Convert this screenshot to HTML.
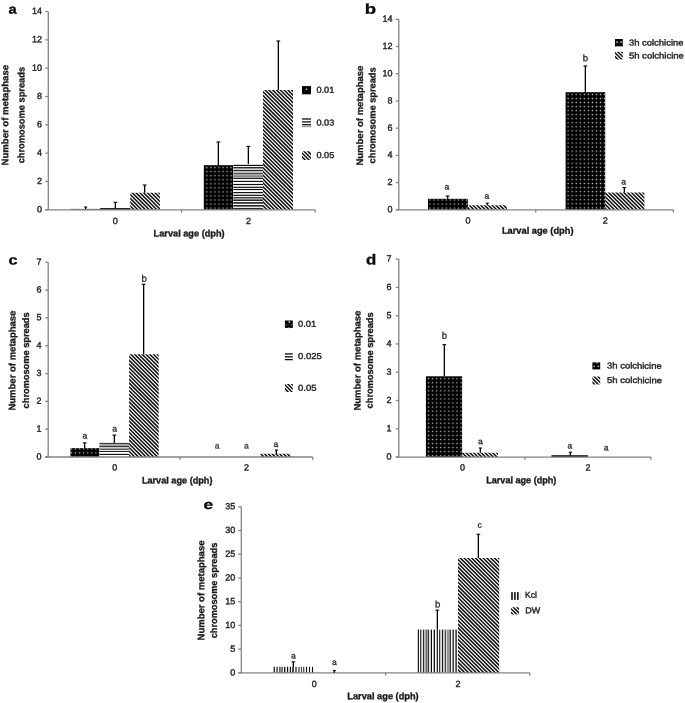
<!DOCTYPE html>
<html><head><meta charset="utf-8"><title>Figure</title>
<style>
html,body{margin:0;padding:0;background:#fff;}
svg{display:block;font-family:"Liberation Sans",sans-serif;will-change:transform;}
</style></head>
<body>
<svg width="685" height="703" viewBox="0 0 685 703">
<rect width="685" height="703" fill="#fff"/>
<text transform="translate(8.60,13.70) skewY(0.05) scale(1.1,1)" font-size="13.4" font-weight="bold" fill="#0a0a0a" stroke="#0a0a0a" stroke-width="0.3">a</text>
<rect x="70.4" y="208.90" width="29.7" height="0.9" fill="#444"/>
<rect x="100.1" y="208.00" width="30.2" height="1.8" fill="#222"/>
<clipPath id="c1"><rect x="130.30" y="192.70" width="29.60" height="17.10"/></clipPath>
<path clip-path="url(#c1)" d="M128.30 211.60L161.90 245.20M128.30 207.80L161.90 241.40M128.30 204.00L161.90 237.60M128.30 200.20L161.90 233.80M128.30 196.40L161.90 230.00M128.30 192.60L161.90 226.20M128.30 188.80L161.90 222.40M128.30 185.00L161.90 218.60M128.30 181.20L161.90 214.80M128.30 177.40L161.90 211.00M128.30 173.60L161.90 207.20M128.30 169.80L161.90 203.40M128.30 166.00L161.90 199.60M128.30 162.20L161.90 195.80M128.30 158.40L161.90 192.00" stroke="#0c0c0c" stroke-width="1.5" fill="none"/>
<pattern id="pc2" width="4.05" height="4.05" patternUnits="userSpaceOnUse" x="204.78" y="165.57"><rect width="4.05" height="4.05" fill="#000"/><rect x="1.38" y="1.38" width="1.3" height="1.3" fill="#c6c6c6"/></pattern>
<rect x="203.80" y="165.20" width="29.50" height="44.60" fill="url(#pc2)"/>
<rect x="233.30" y="164.85" width="29.70" height="44.95" fill="#fff"/>
<rect x="233.30" y="168.50" width="29.70" height="1.40" fill="#e2e2e2"/>
<rect x="233.30" y="171.20" width="29.70" height="1.80" fill="#c4c4c4"/>
<rect x="233.30" y="174.10" width="29.70" height="3.60" fill="#aaa"/>
<rect x="233.30" y="198.00" width="29.70" height="1.80" fill="#999"/>
<rect x="233.30" y="164.83" width="29.70" height="1.15" fill="#0a0a0a"/>
<rect x="233.30" y="166.95" width="29.70" height="1.50" fill="#2a2a2a"/>
<rect x="233.30" y="169.90" width="29.70" height="1.20" fill="#2a2a2a"/>
<rect x="233.30" y="173.10" width="29.70" height="1.00" fill="#3a3a3a"/>
<rect x="233.30" y="175.70" width="29.70" height="1.00" fill="#777"/>
<rect x="233.30" y="177.85" width="29.70" height="1.10" fill="#1a1a1a"/>
<rect x="233.30" y="180.83" width="29.70" height="1.15" fill="#0a0a0a"/>
<rect x="233.30" y="183.93" width="29.70" height="1.15" fill="#0a0a0a"/>
<rect x="233.30" y="186.73" width="29.70" height="1.15" fill="#0a0a0a"/>
<rect x="233.30" y="188.93" width="29.70" height="1.15" fill="#0a0a0a"/>
<rect x="233.30" y="192.03" width="29.70" height="1.15" fill="#0a0a0a"/>
<rect x="233.30" y="194.73" width="29.70" height="1.15" fill="#0a0a0a"/>
<rect x="233.30" y="196.95" width="29.70" height="1.10" fill="#444"/>
<rect x="233.30" y="199.73" width="29.70" height="1.15" fill="#0a0a0a"/>
<rect x="233.30" y="202.05" width="29.70" height="1.70" fill="#2a2a2a"/>
<rect x="233.30" y="204.95" width="29.70" height="1.70" fill="#2a2a2a"/>
<rect x="233.30" y="207.90" width="29.70" height="1.60" fill="#2a2a2a"/>
<clipPath id="c3"><rect x="263.00" y="90.00" width="30.00" height="119.80"/></clipPath>
<path clip-path="url(#c3)" d="M261.00 215.10L295.00 249.10M261.00 211.30L295.00 245.30M261.00 207.50L295.00 241.50M261.00 203.70L295.00 237.70M261.00 199.90L295.00 233.90M261.00 196.10L295.00 230.10M261.00 192.30L295.00 226.30M261.00 188.50L295.00 222.50M261.00 184.70L295.00 218.70M261.00 180.90L295.00 214.90M261.00 177.10L295.00 211.10M261.00 173.30L295.00 207.30M261.00 169.50L295.00 203.50M261.00 165.70L295.00 199.70M261.00 161.90L295.00 195.90M261.00 158.10L295.00 192.10M261.00 154.30L295.00 188.30M261.00 150.50L295.00 184.50M261.00 146.70L295.00 180.70M261.00 142.90L295.00 176.90M261.00 139.10L295.00 173.10M261.00 135.30L295.00 169.30M261.00 131.50L295.00 165.50M261.00 127.70L295.00 161.70M261.00 123.90L295.00 157.90M261.00 120.10L295.00 154.10M261.00 116.30L295.00 150.30M261.00 112.50L295.00 146.50M261.00 108.70L295.00 142.70M261.00 104.90L295.00 138.90M261.00 101.10L295.00 135.10M261.00 97.30L295.00 131.30M261.00 93.50L295.00 127.50M261.00 89.70L295.00 123.70M261.00 85.90L295.00 119.90M261.00 82.10L295.00 116.10M261.00 78.30L295.00 112.30M261.00 74.50L295.00 108.50M261.00 70.70L295.00 104.70M261.00 66.90L295.00 100.90M261.00 63.10L295.00 97.10M261.00 59.30L295.00 93.30M261.00 55.50L295.00 89.50" stroke="#0c0c0c" stroke-width="1.5" fill="none"/>
<path d="M48.30 11.55V209.80" stroke="#838383" stroke-width="1.3" fill="none"/>
<path d="M45.30 209.80H315.20" stroke="#838383" stroke-width="1.3" fill="none"/>
<path d="M45.30 209.80H48.30" stroke="#838383" stroke-width="1.3" fill="none"/>
<text transform="translate(42.10,212.30) skewY(0.05)" font-size="9.0" text-anchor="end" font-weight="normal" fill="#262626" stroke="#262626" stroke-width="0.4">0</text>
<path d="M45.30 181.48H48.30" stroke="#838383" stroke-width="1.3" fill="none"/>
<text transform="translate(42.10,183.98) skewY(0.05)" font-size="9.0" text-anchor="end" font-weight="normal" fill="#262626" stroke="#262626" stroke-width="0.4">2</text>
<path d="M45.30 153.16H48.30" stroke="#838383" stroke-width="1.3" fill="none"/>
<text transform="translate(42.10,155.66) skewY(0.05)" font-size="9.0" text-anchor="end" font-weight="normal" fill="#262626" stroke="#262626" stroke-width="0.4">4</text>
<path d="M45.30 124.84H48.30" stroke="#838383" stroke-width="1.3" fill="none"/>
<text transform="translate(42.10,127.34) skewY(0.05)" font-size="9.0" text-anchor="end" font-weight="normal" fill="#262626" stroke="#262626" stroke-width="0.4">6</text>
<path d="M45.30 96.51H48.30" stroke="#838383" stroke-width="1.3" fill="none"/>
<text transform="translate(42.10,99.01) skewY(0.05)" font-size="9.0" text-anchor="end" font-weight="normal" fill="#262626" stroke="#262626" stroke-width="0.4">8</text>
<path d="M45.30 68.19H48.30" stroke="#838383" stroke-width="1.3" fill="none"/>
<text transform="translate(42.10,70.69) skewY(0.05)" font-size="9.0" text-anchor="end" font-weight="normal" fill="#262626" stroke="#262626" stroke-width="0.4">10</text>
<path d="M45.30 39.87H48.30" stroke="#838383" stroke-width="1.3" fill="none"/>
<text transform="translate(42.10,42.37) skewY(0.05)" font-size="9.0" text-anchor="end" font-weight="normal" fill="#262626" stroke="#262626" stroke-width="0.4">12</text>
<path d="M45.30 11.55H48.30" stroke="#838383" stroke-width="1.3" fill="none"/>
<text transform="translate(42.10,14.05) skewY(0.05)" font-size="9.0" text-anchor="end" font-weight="normal" fill="#262626" stroke="#262626" stroke-width="0.4">14</text>
<path d="M181.50 209.80V212.60" stroke="#838383" stroke-width="1.3" fill="none"/>
<path d="M315.20 209.80V212.60" stroke="#838383" stroke-width="1.3" fill="none"/>
<text transform="translate(115.20,223.90) skewY(0.05)" font-size="9.0" text-anchor="middle" font-weight="normal" fill="#262626" stroke="#262626" stroke-width="0.4">0</text>
<text transform="translate(248.60,223.90) skewY(0.05)" font-size="9.0" text-anchor="middle" font-weight="normal" fill="#262626" stroke="#262626" stroke-width="0.4">2</text>
<rect x="85.00" y="207.00" width="1.3" height="2.00" fill="#000"/>
<rect x="84.15" y="206.45" width="3.00" height="1.1" fill="#000"/>
<rect x="114.70" y="202.30" width="1.3" height="5.80" fill="#000"/>
<rect x="113.50" y="201.75" width="3.70" height="1.1" fill="#000"/>
<rect x="144.00" y="185.00" width="1.3" height="7.70" fill="#000"/>
<rect x="142.80" y="184.45" width="3.70" height="1.1" fill="#000"/>
<rect x="217.70" y="142.00" width="1.3" height="23.20" fill="#000"/>
<rect x="216.50" y="141.45" width="3.70" height="1.1" fill="#000"/>
<rect x="247.70" y="146.40" width="1.3" height="17.70" fill="#000"/>
<rect x="246.50" y="145.85" width="3.70" height="1.1" fill="#000"/>
<rect x="277.70" y="41.00" width="1.3" height="49.00" fill="#000"/>
<rect x="276.50" y="40.45" width="3.70" height="1.1" fill="#000"/>
<text transform="translate(8.30,115.20) rotate(-90) skewY(0.05)" font-size="9.4" text-anchor="middle" font-weight="bold" fill="#1a1a1a" stroke="#1a1a1a" stroke-width="0.3" textLength="100.6" lengthAdjust="spacingAndGlyphs">Number of metaphase</text>
<text transform="translate(24.40,115.15) rotate(-90) skewY(0.05)" font-size="9.4" text-anchor="middle" font-weight="bold" fill="#1a1a1a" stroke="#1a1a1a" stroke-width="0.3" textLength="96.4" lengthAdjust="spacingAndGlyphs">chromosome spreads</text>
<text transform="translate(153.60,236.50) skewY(0.05)" font-size="9.5" text-anchor="start" font-weight="bold" fill="#1a1a1a" stroke="#1a1a1a" stroke-width="0.35" textLength="71" lengthAdjust="spacingAndGlyphs">Larval age (dph)</text>
<rect x="302.00" y="86.10" width="9.00" height="8.20" fill="#000"/>
<rect x="305.80" y="88.60" width="1.40" height="1.40" fill="#ddd"/>
<rect x="302.00" y="118.35" width="9.00" height="1.3" fill="#111"/>
<rect x="302.00" y="121.25" width="9.00" height="1.3" fill="#111"/>
<rect x="302.00" y="124.05" width="9.00" height="1.3" fill="#111"/>
<rect x="302.00" y="126.00" width="9.00" height="1.2" fill="#999"/>
<clipPath id="c4"><rect x="302.00" y="151.20" width="9.00" height="8.80"/></clipPath>
<path clip-path="url(#c4)" d="M300.00 162.40L313.00 175.40M300.00 158.60L313.00 171.60M300.00 154.80L313.00 167.80M300.00 151.00L313.00 164.00M300.00 147.20L313.00 160.20M300.00 143.40L313.00 156.40M300.00 139.60L313.00 152.60" stroke="#0c0c0c" stroke-width="1.5" fill="none"/>
<text transform="translate(316.50,92.75) skewY(0.05)" font-size="8.6" text-anchor="start" font-weight="normal" fill="#262626" stroke="#262626" stroke-width="0.4" textLength="17.8" lengthAdjust="spacingAndGlyphs">0.01</text>
<text transform="translate(316.50,125.40) skewY(0.05)" font-size="8.6" text-anchor="start" font-weight="normal" fill="#262626" stroke="#262626" stroke-width="0.4" textLength="17.8" lengthAdjust="spacingAndGlyphs">0.03</text>
<text transform="translate(316.50,158.05) skewY(0.05)" font-size="8.6" text-anchor="start" font-weight="normal" fill="#262626" stroke="#262626" stroke-width="0.4" textLength="17.8" lengthAdjust="spacingAndGlyphs">0.05</text>
<text transform="translate(364.85,13.75) skewY(0.05) scale(1.3,1)" font-size="14.25" font-weight="bold" fill="#0a0a0a" stroke="#0a0a0a" stroke-width="0.3">b</text>
<pattern id="pc5" width="4.05" height="4.05" patternUnits="userSpaceOnUse" x="427.98" y="197.97"><rect width="4.05" height="4.05" fill="#000"/><rect x="1.38" y="1.38" width="1.3" height="1.3" fill="#c6c6c6"/></pattern>
<rect x="428.00" y="198.80" width="39.80" height="11.00" fill="url(#pc5)"/>
<clipPath id="c6"><rect x="467.80" y="205.20" width="39.10" height="4.60"/></clipPath>
<path clip-path="url(#c6)" d="M465.80 213.10L508.90 256.20M465.80 209.30L508.90 252.40M465.80 205.50L508.90 248.60M465.80 201.70L508.90 244.80M465.80 197.90L508.90 241.00M465.80 194.10L508.90 237.20M465.80 190.30L508.90 233.40M465.80 186.50L508.90 229.60M465.80 182.70L508.90 225.80M465.80 178.90L508.90 222.00M465.80 175.10L508.90 218.20M465.80 171.30L508.90 214.40M465.80 167.50L508.90 210.60M465.80 163.70L508.90 206.80" stroke="#0c0c0c" stroke-width="1.5" fill="none"/>
<pattern id="pc7" width="4.05" height="4.05" patternUnits="userSpaceOnUse" x="566.08" y="92.38"><rect width="4.05" height="4.05" fill="#000"/><rect x="1.38" y="1.38" width="1.3" height="1.3" fill="#c6c6c6"/></pattern>
<rect x="565.60" y="92.20" width="39.60" height="117.60" fill="url(#pc7)"/>
<clipPath id="c8"><rect x="605.20" y="192.60" width="39.20" height="17.20"/></clipPath>
<path clip-path="url(#c8)" d="M603.20 213.70L646.40 256.90M603.20 209.90L646.40 253.10M603.20 206.10L646.40 249.30M603.20 202.30L646.40 245.50M603.20 198.50L646.40 241.70M603.20 194.70L646.40 237.90M603.20 190.90L646.40 234.10M603.20 187.10L646.40 230.30M603.20 183.30L646.40 226.50M603.20 179.50L646.40 222.70M603.20 175.70L646.40 218.90M603.20 171.90L646.40 215.10M603.20 168.10L646.40 211.30M603.20 164.30L646.40 207.50M603.20 160.50L646.40 203.70M603.20 156.70L646.40 199.90M603.20 152.90L646.40 196.10M603.20 149.10L646.40 192.30" stroke="#0c0c0c" stroke-width="1.5" fill="none"/>
<path d="M398.80 19.30V209.80" stroke="#838383" stroke-width="1.3" fill="none"/>
<path d="M395.80 209.80H673.30" stroke="#838383" stroke-width="1.3" fill="none"/>
<path d="M395.80 209.80H398.80" stroke="#838383" stroke-width="1.3" fill="none"/>
<text transform="translate(392.50,212.30) skewY(0.05)" font-size="9.0" text-anchor="end" font-weight="normal" fill="#262626" stroke="#262626" stroke-width="0.4">0</text>
<path d="M395.80 182.59H398.80" stroke="#838383" stroke-width="1.3" fill="none"/>
<text transform="translate(392.50,185.09) skewY(0.05)" font-size="9.0" text-anchor="end" font-weight="normal" fill="#262626" stroke="#262626" stroke-width="0.4">2</text>
<path d="M395.80 155.37H398.80" stroke="#838383" stroke-width="1.3" fill="none"/>
<text transform="translate(392.50,157.87) skewY(0.05)" font-size="9.0" text-anchor="end" font-weight="normal" fill="#262626" stroke="#262626" stroke-width="0.4">4</text>
<path d="M395.80 128.16H398.80" stroke="#838383" stroke-width="1.3" fill="none"/>
<text transform="translate(392.50,130.66) skewY(0.05)" font-size="9.0" text-anchor="end" font-weight="normal" fill="#262626" stroke="#262626" stroke-width="0.4">6</text>
<path d="M395.80 100.94H398.80" stroke="#838383" stroke-width="1.3" fill="none"/>
<text transform="translate(392.50,103.44) skewY(0.05)" font-size="9.0" text-anchor="end" font-weight="normal" fill="#262626" stroke="#262626" stroke-width="0.4">8</text>
<path d="M395.80 73.73H398.80" stroke="#838383" stroke-width="1.3" fill="none"/>
<text transform="translate(392.50,76.23) skewY(0.05)" font-size="9.0" text-anchor="end" font-weight="normal" fill="#262626" stroke="#262626" stroke-width="0.4">10</text>
<path d="M395.80 46.51H398.80" stroke="#838383" stroke-width="1.3" fill="none"/>
<text transform="translate(392.50,49.01) skewY(0.05)" font-size="9.0" text-anchor="end" font-weight="normal" fill="#262626" stroke="#262626" stroke-width="0.4">12</text>
<path d="M395.80 19.30H398.80" stroke="#838383" stroke-width="1.3" fill="none"/>
<text transform="translate(392.50,21.80) skewY(0.05)" font-size="9.0" text-anchor="end" font-weight="normal" fill="#262626" stroke="#262626" stroke-width="0.4">14</text>
<path d="M535.70 209.80V212.60" stroke="#838383" stroke-width="1.3" fill="none"/>
<path d="M673.30 209.80V212.60" stroke="#838383" stroke-width="1.3" fill="none"/>
<text transform="translate(467.90,223.60) skewY(0.05)" font-size="9.0" text-anchor="middle" font-weight="normal" fill="#262626" stroke="#262626" stroke-width="0.4">0</text>
<text transform="translate(605.20,223.60) skewY(0.05)" font-size="9.0" text-anchor="middle" font-weight="normal" fill="#262626" stroke="#262626" stroke-width="0.4">2</text>
<rect x="447.00" y="196.00" width="1.3" height="2.80" fill="#000"/>
<rect x="445.80" y="195.45" width="3.70" height="1.1" fill="#000"/>
<rect x="486.70" y="203.20" width="1.3" height="2.00" fill="#000"/>
<rect x="485.85" y="202.65" width="3.00" height="1.1" fill="#000"/>
<rect x="584.70" y="66.00" width="1.3" height="26.20" fill="#000"/>
<rect x="583.50" y="65.45" width="3.70" height="1.1" fill="#000"/>
<rect x="623.70" y="187.60" width="1.3" height="5.00" fill="#000"/>
<rect x="622.50" y="187.05" width="3.70" height="1.1" fill="#000"/>
<text transform="translate(446.80,189.60) skewY(0.05)" font-size="8.6" text-anchor="middle" font-weight="normal" fill="#222" stroke="#222" stroke-width="0.25">a</text>
<text transform="translate(487.00,198.70) skewY(0.05)" font-size="8.6" text-anchor="middle" font-weight="normal" fill="#222" stroke="#222" stroke-width="0.25">a</text>
<text transform="translate(585.40,61.20) skewY(0.05)" font-size="9.6" text-anchor="middle" font-weight="normal" fill="#222" stroke="#222" stroke-width="0.25">b</text>
<text transform="translate(623.70,184.40) skewY(0.05)" font-size="8.6" text-anchor="middle" font-weight="normal" fill="#222" stroke="#222" stroke-width="0.25">a</text>
<text transform="translate(363.00,115.60) rotate(-90) skewY(0.05)" font-size="9.4" text-anchor="middle" font-weight="bold" fill="#1a1a1a" stroke="#1a1a1a" stroke-width="0.3" textLength="100.0" lengthAdjust="spacingAndGlyphs">Number of metaphase</text>
<text transform="translate(375.40,115.40) rotate(-90) skewY(0.05)" font-size="9.4" text-anchor="middle" font-weight="bold" fill="#1a1a1a" stroke="#1a1a1a" stroke-width="0.3" textLength="96.0" lengthAdjust="spacingAndGlyphs">chromosome spreads</text>
<text transform="translate(501.90,233.80) skewY(0.05)" font-size="9.5" text-anchor="start" font-weight="bold" fill="#1a1a1a" stroke="#1a1a1a" stroke-width="0.35" textLength="71.6" lengthAdjust="spacingAndGlyphs">Larval age (dph)</text>
<rect x="615.00" y="39.00" width="7.80" height="7.60" fill="#000"/>
<rect x="616.15" y="41.25" width="1.70" height="1.70" fill="#aaa"/>
<rect x="620.25" y="41.25" width="1.70" height="1.70" fill="#aaa"/>
<rect x="615.00" y="46.50" width="0.10" height="0.10" fill="#000"/>
<rect x="616.50" y="46.00" width="1.00" height="1.00" fill="#fff"/>
<rect x="620.60" y="46.00" width="1.00" height="1.00" fill="#fff"/>
<rect x="618.50" y="46.20" width="1.00" height="1.00" fill="#fff"/>
<clipPath id="c9"><rect x="615.00" y="51.80" width="7.80" height="7.60"/></clipPath>
<path clip-path="url(#c9)" d="M613.00 62.20L624.80 74.00M613.00 58.40L624.80 70.20M613.00 54.60L624.80 66.40M613.00 50.80L624.80 62.60M613.00 47.00L624.80 58.80M613.00 43.20L624.80 55.00M613.00 39.40L624.80 51.20" stroke="#0c0c0c" stroke-width="1.5" fill="none"/>
<text transform="translate(628.90,45.40) skewY(0.05)" font-size="8.6" text-anchor="start" font-weight="normal" fill="#262626" stroke="#262626" stroke-width="0.4" textLength="54.6" lengthAdjust="spacingAndGlyphs">3h colchicine</text>
<text transform="translate(628.90,58.40) skewY(0.05)" font-size="8.6" text-anchor="start" font-weight="normal" fill="#262626" stroke="#262626" stroke-width="0.4" textLength="55.0" lengthAdjust="spacingAndGlyphs">5h colchicine</text>
<text transform="translate(8.40,264.50) skewY(0.05) scale(1.22,1)" font-size="13.4" font-weight="bold" fill="#0a0a0a" stroke="#0a0a0a" stroke-width="0.3">c</text>
<pattern id="pc10" width="4.05" height="4.05" patternUnits="userSpaceOnUse" x="69.47" y="446.78"><rect width="4.05" height="4.05" fill="#000"/><rect x="1.38" y="1.38" width="1.3" height="1.3" fill="#c6c6c6"/></pattern>
<rect x="70.50" y="448.10" width="28.90" height="8.90" fill="url(#pc10)"/>
<rect x="99.40" y="442.90" width="29.70" height="14.10" fill="#fff"/>
<rect x="99.40" y="443.90" width="29.70" height="2.00" fill="#aaa"/>
<rect x="99.40" y="447.00" width="29.70" height="1.50" fill="#ccc"/>
<rect x="99.40" y="442.90" width="29.70" height="1.00" fill="#2a2a2a"/>
<rect x="99.40" y="445.90" width="29.70" height="1.00" fill="#222"/>
<rect x="99.40" y="448.60" width="29.70" height="1.20" fill="#3a3a3a"/>
<rect x="99.40" y="450.90" width="29.70" height="1.00" fill="#0a0a0a"/>
<rect x="99.40" y="453.85" width="29.70" height="1.10" fill="#0a0a0a"/>
<clipPath id="c11"><rect x="129.10" y="354.30" width="29.60" height="102.70"/></clipPath>
<path clip-path="url(#c11)" d="M127.10 460.80L160.70 494.40M127.10 457.00L160.70 490.60M127.10 453.20L160.70 486.80M127.10 449.40L160.70 483.00M127.10 445.60L160.70 479.20M127.10 441.80L160.70 475.40M127.10 438.00L160.70 471.60M127.10 434.20L160.70 467.80M127.10 430.40L160.70 464.00M127.10 426.60L160.70 460.20M127.10 422.80L160.70 456.40M127.10 419.00L160.70 452.60M127.10 415.20L160.70 448.80M127.10 411.40L160.70 445.00M127.10 407.60L160.70 441.20M127.10 403.80L160.70 437.40M127.10 400.00L160.70 433.60M127.10 396.20L160.70 429.80M127.10 392.40L160.70 426.00M127.10 388.60L160.70 422.20M127.10 384.80L160.70 418.40M127.10 381.00L160.70 414.60M127.10 377.20L160.70 410.80M127.10 373.40L160.70 407.00M127.10 369.60L160.70 403.20M127.10 365.80L160.70 399.40M127.10 362.00L160.70 395.60M127.10 358.20L160.70 391.80M127.10 354.40L160.70 388.00M127.10 350.60L160.70 384.20M127.10 346.80L160.70 380.40M127.10 343.00L160.70 376.60M127.10 339.20L160.70 372.80M127.10 335.40L160.70 369.00M127.10 331.60L160.70 365.20M127.10 327.80L160.70 361.40M127.10 324.00L160.70 357.60M127.10 320.20L160.70 353.80" stroke="#0c0c0c" stroke-width="1.5" fill="none"/>
<clipPath id="c12"><rect x="260.40" y="453.70" width="30.20" height="3.30"/></clipPath>
<path clip-path="url(#c12)" d="M258.40 459.10L292.60 493.30M258.40 455.30L292.60 489.50M258.40 451.50L292.60 485.70M258.40 447.70L292.60 481.90M258.40 443.90L292.60 478.10M258.40 440.10L292.60 474.30M258.40 436.30L292.60 470.50M258.40 432.50L292.60 466.70M258.40 428.70L292.60 462.90M258.40 424.90L292.60 459.10M258.40 421.10L292.60 455.30" stroke="#0c0c0c" stroke-width="1.5" fill="none"/>
<path d="M48.20 262.20V457.00" stroke="#838383" stroke-width="1.3" fill="none"/>
<path d="M45.20 457.00H312.70" stroke="#838383" stroke-width="1.3" fill="none"/>
<path d="M45.20 457.00H48.20" stroke="#838383" stroke-width="1.3" fill="none"/>
<text transform="translate(41.60,459.50) skewY(0.05)" font-size="9.0" text-anchor="end" font-weight="normal" fill="#262626" stroke="#262626" stroke-width="0.4">0</text>
<path d="M45.20 429.17H48.20" stroke="#838383" stroke-width="1.3" fill="none"/>
<text transform="translate(41.60,431.67) skewY(0.05)" font-size="9.0" text-anchor="end" font-weight="normal" fill="#262626" stroke="#262626" stroke-width="0.4">1</text>
<path d="M45.20 401.34H48.20" stroke="#838383" stroke-width="1.3" fill="none"/>
<text transform="translate(41.60,403.84) skewY(0.05)" font-size="9.0" text-anchor="end" font-weight="normal" fill="#262626" stroke="#262626" stroke-width="0.4">2</text>
<path d="M45.20 373.51H48.20" stroke="#838383" stroke-width="1.3" fill="none"/>
<text transform="translate(41.60,376.01) skewY(0.05)" font-size="9.0" text-anchor="end" font-weight="normal" fill="#262626" stroke="#262626" stroke-width="0.4">3</text>
<path d="M45.20 345.69H48.20" stroke="#838383" stroke-width="1.3" fill="none"/>
<text transform="translate(41.60,348.19) skewY(0.05)" font-size="9.0" text-anchor="end" font-weight="normal" fill="#262626" stroke="#262626" stroke-width="0.4">4</text>
<path d="M45.20 317.86H48.20" stroke="#838383" stroke-width="1.3" fill="none"/>
<text transform="translate(41.60,320.36) skewY(0.05)" font-size="9.0" text-anchor="end" font-weight="normal" fill="#262626" stroke="#262626" stroke-width="0.4">5</text>
<path d="M45.20 290.03H48.20" stroke="#838383" stroke-width="1.3" fill="none"/>
<text transform="translate(41.60,292.53) skewY(0.05)" font-size="9.0" text-anchor="end" font-weight="normal" fill="#262626" stroke="#262626" stroke-width="0.4">6</text>
<path d="M45.20 262.20H48.20" stroke="#838383" stroke-width="1.3" fill="none"/>
<text transform="translate(41.60,264.70) skewY(0.05)" font-size="9.0" text-anchor="end" font-weight="normal" fill="#262626" stroke="#262626" stroke-width="0.4">7</text>
<path d="M180.10 457.00V459.80" stroke="#838383" stroke-width="1.3" fill="none"/>
<path d="M312.70 457.00V459.80" stroke="#838383" stroke-width="1.3" fill="none"/>
<text transform="translate(114.80,470.40) skewY(0.05)" font-size="9.0" text-anchor="middle" font-weight="normal" fill="#262626" stroke="#262626" stroke-width="0.4">0</text>
<text transform="translate(246.50,470.40) skewY(0.05)" font-size="9.0" text-anchor="middle" font-weight="normal" fill="#262626" stroke="#262626" stroke-width="0.4">2</text>
<rect x="84.00" y="442.90" width="1.3" height="5.50" fill="#000"/>
<rect x="82.80" y="442.35" width="3.70" height="1.1" fill="#000"/>
<rect x="113.70" y="435.10" width="1.3" height="7.80" fill="#000"/>
<rect x="112.50" y="434.55" width="3.70" height="1.1" fill="#000"/>
<rect x="143.00" y="284.30" width="1.3" height="70.00" fill="#000"/>
<rect x="141.80" y="283.75" width="3.70" height="1.1" fill="#000"/>
<rect x="275.70" y="450.00" width="1.3" height="4.20" fill="#000"/>
<rect x="274.85" y="449.45" width="3.00" height="1.1" fill="#000"/>
<text transform="translate(84.90,438.60) skewY(0.05)" font-size="8.6" text-anchor="middle" font-weight="normal" fill="#222" stroke="#222" stroke-width="0.25">a</text>
<text transform="translate(114.60,431.40) skewY(0.05)" font-size="8.6" text-anchor="middle" font-weight="normal" fill="#222" stroke="#222" stroke-width="0.25">a</text>
<text transform="translate(144.10,281.70) skewY(0.05)" font-size="9.6" text-anchor="middle" font-weight="normal" fill="#222" stroke="#222" stroke-width="0.25">b</text>
<text transform="translate(217.20,448.40) skewY(0.05)" font-size="8.6" text-anchor="middle" font-weight="normal" fill="#484848" stroke="#484848" stroke-width="0.3">a</text>
<text transform="translate(246.40,448.40) skewY(0.05)" font-size="8.6" text-anchor="middle" font-weight="normal" fill="#484848" stroke="#484848" stroke-width="0.3">a</text>
<text transform="translate(276.00,447.00) skewY(0.05)" font-size="8.6" text-anchor="middle" font-weight="normal" fill="#333" stroke="#333" stroke-width="0.3">a</text>
<text transform="translate(15.40,360.60) rotate(-90) skewY(0.05)" font-size="9.4" text-anchor="middle" font-weight="bold" fill="#1a1a1a" stroke="#1a1a1a" stroke-width="0.3" textLength="100.0" lengthAdjust="spacingAndGlyphs">Number of metaphase</text>
<text transform="translate(29.00,360.40) rotate(-90) skewY(0.05)" font-size="9.4" text-anchor="middle" font-weight="bold" fill="#1a1a1a" stroke="#1a1a1a" stroke-width="0.3" textLength="96.0" lengthAdjust="spacingAndGlyphs">chromosome spreads</text>
<text transform="translate(141.90,483.40) skewY(0.05)" font-size="9.5" text-anchor="start" font-weight="bold" fill="#1a1a1a" stroke="#1a1a1a" stroke-width="0.35" textLength="70.6" lengthAdjust="spacingAndGlyphs">Larval age (dph)</text>
<rect x="284.90" y="320.50" width="7.90" height="7.40" fill="#000"/>
<rect x="288.50" y="321.30" width="1.40" height="1.40" fill="#eee"/>
<rect x="284.90" y="320.50" width="0.05" height="0.05" fill="#000"/>
<rect x="285.80" y="324.20" width="1.20" height="1.20" fill="#777"/>
<rect x="290.60" y="324.20" width="1.20" height="1.20" fill="#777"/>
<rect x="288.20" y="327.00" width="1.20" height="1.20" fill="#777"/>
<rect x="284.90" y="353.25" width="7.90" height="1.3" fill="#111"/>
<rect x="284.90" y="356.15" width="7.90" height="1.3" fill="#111"/>
<rect x="284.90" y="358.95" width="7.90" height="1.3" fill="#111"/>
<clipPath id="c13"><rect x="284.90" y="384.00" width="7.90" height="8.10"/></clipPath>
<path clip-path="url(#c13)" d="M282.90 394.30L294.80 406.20M282.90 390.50L294.80 402.40M282.90 386.70L294.80 398.60M282.90 382.90L294.80 394.80M282.90 379.10L294.80 391.00M282.90 375.30L294.80 387.20M282.90 371.50L294.80 383.40" stroke="#0c0c0c" stroke-width="1.5" fill="none"/>
<text transform="translate(298.00,326.85) skewY(0.05)" font-size="8.6" text-anchor="start" font-weight="normal" fill="#262626" stroke="#262626" stroke-width="0.4" textLength="18.2" lengthAdjust="spacingAndGlyphs">0.01</text>
<text transform="translate(298.00,359.10) skewY(0.05)" font-size="8.6" text-anchor="start" font-weight="normal" fill="#262626" stroke="#262626" stroke-width="0.4" textLength="23.8" lengthAdjust="spacingAndGlyphs">0.025</text>
<text transform="translate(298.00,390.65) skewY(0.05)" font-size="8.6" text-anchor="start" font-weight="normal" fill="#262626" stroke="#262626" stroke-width="0.4" textLength="18.5" lengthAdjust="spacingAndGlyphs">0.05</text>
<text transform="translate(365.98,264.45) skewY(0.05) scale(1.16,1)" font-size="14.5" font-weight="bold" fill="#0a0a0a" stroke="#0a0a0a" stroke-width="0.3">d</text>
<pattern id="pc14" width="4.05" height="4.05" patternUnits="userSpaceOnUse" x="426.58" y="376.68"><rect width="4.05" height="4.05" fill="#000"/><rect x="1.38" y="1.38" width="1.3" height="1.3" fill="#c6c6c6"/></pattern>
<rect x="425.90" y="376.30" width="36.20" height="80.75" fill="url(#pc14)"/>
<clipPath id="c15"><rect x="462.10" y="452.70" width="35.90" height="4.35"/></clipPath>
<path clip-path="url(#c15)" d="M460.10 462.00L500.00 501.90M460.10 458.20L500.00 498.10M460.10 454.40L500.00 494.30M460.10 450.60L500.00 490.50M460.10 446.80L500.00 486.70M460.10 443.00L500.00 482.90M460.10 439.20L500.00 479.10M460.10 435.40L500.00 475.30M460.10 431.60L500.00 471.50M460.10 427.80L500.00 467.70M460.10 424.00L500.00 463.90M460.10 420.20L500.00 460.10M460.10 416.40L500.00 456.30M460.10 412.60L500.00 452.50" stroke="#0c0c0c" stroke-width="1.5" fill="none"/>
<rect x="551.4" y="455.2" width="36.5" height="1.7" fill="#111"/>
<path d="M398.80 259.10V457.05" stroke="#838383" stroke-width="1.3" fill="none"/>
<path d="M395.80 457.05H650.90" stroke="#838383" stroke-width="1.3" fill="none"/>
<path d="M395.80 457.05H398.80" stroke="#838383" stroke-width="1.3" fill="none"/>
<text transform="translate(391.50,459.55) skewY(0.05)" font-size="9.0" text-anchor="end" font-weight="normal" fill="#262626" stroke="#262626" stroke-width="0.4">0</text>
<path d="M395.80 428.77H398.80" stroke="#838383" stroke-width="1.3" fill="none"/>
<text transform="translate(391.50,431.27) skewY(0.05)" font-size="9.0" text-anchor="end" font-weight="normal" fill="#262626" stroke="#262626" stroke-width="0.4">1</text>
<path d="M395.80 400.49H398.80" stroke="#838383" stroke-width="1.3" fill="none"/>
<text transform="translate(391.50,402.99) skewY(0.05)" font-size="9.0" text-anchor="end" font-weight="normal" fill="#262626" stroke="#262626" stroke-width="0.4">2</text>
<path d="M395.80 372.21H398.80" stroke="#838383" stroke-width="1.3" fill="none"/>
<text transform="translate(391.50,374.71) skewY(0.05)" font-size="9.0" text-anchor="end" font-weight="normal" fill="#262626" stroke="#262626" stroke-width="0.4">3</text>
<path d="M395.80 343.94H398.80" stroke="#838383" stroke-width="1.3" fill="none"/>
<text transform="translate(391.50,346.44) skewY(0.05)" font-size="9.0" text-anchor="end" font-weight="normal" fill="#262626" stroke="#262626" stroke-width="0.4">4</text>
<path d="M395.80 315.66H398.80" stroke="#838383" stroke-width="1.3" fill="none"/>
<text transform="translate(391.50,318.16) skewY(0.05)" font-size="9.0" text-anchor="end" font-weight="normal" fill="#262626" stroke="#262626" stroke-width="0.4">5</text>
<path d="M395.80 287.38H398.80" stroke="#838383" stroke-width="1.3" fill="none"/>
<text transform="translate(391.50,289.88) skewY(0.05)" font-size="9.0" text-anchor="end" font-weight="normal" fill="#262626" stroke="#262626" stroke-width="0.4">6</text>
<path d="M395.80 259.10H398.80" stroke="#838383" stroke-width="1.3" fill="none"/>
<text transform="translate(391.50,261.60) skewY(0.05)" font-size="9.0" text-anchor="end" font-weight="normal" fill="#262626" stroke="#262626" stroke-width="0.4">7</text>
<path d="M525.00 457.05V459.85" stroke="#838383" stroke-width="1.3" fill="none"/>
<path d="M650.90 457.05V459.85" stroke="#838383" stroke-width="1.3" fill="none"/>
<text transform="translate(462.60,470.40) skewY(0.05)" font-size="9.0" text-anchor="middle" font-weight="normal" fill="#262626" stroke="#262626" stroke-width="0.4">0</text>
<text transform="translate(587.90,470.40) skewY(0.05)" font-size="9.0" text-anchor="middle" font-weight="normal" fill="#262626" stroke="#262626" stroke-width="0.4">2</text>
<rect x="443.70" y="344.70" width="1.3" height="31.60" fill="#000"/>
<rect x="442.50" y="344.15" width="3.70" height="1.1" fill="#000"/>
<rect x="479.70" y="448.00" width="1.3" height="4.70" fill="#000"/>
<rect x="478.85" y="447.45" width="3.00" height="1.1" fill="#000"/>
<rect x="569.70" y="452.20" width="1.3" height="3.10" fill="#000"/>
<rect x="568.85" y="451.65" width="3.00" height="1.1" fill="#000"/>
<text transform="translate(444.30,338.80) skewY(0.05)" font-size="9.6" text-anchor="middle" font-weight="normal" fill="#222" stroke="#222" stroke-width="0.25">b</text>
<text transform="translate(480.40,444.20) skewY(0.05)" font-size="8.6" text-anchor="middle" font-weight="normal" fill="#222" stroke="#222" stroke-width="0.25">a</text>
<text transform="translate(570.00,448.40) skewY(0.05)" font-size="8.6" text-anchor="middle" font-weight="normal" fill="#333" stroke="#333" stroke-width="0.3">a</text>
<text transform="translate(606.20,450.40) skewY(0.05)" font-size="8.6" text-anchor="middle" font-weight="normal" fill="#333" stroke="#333" stroke-width="0.3">a</text>
<text transform="translate(360.50,360.60) rotate(-90) skewY(0.05)" font-size="9.4" text-anchor="middle" font-weight="bold" fill="#1a1a1a" stroke="#1a1a1a" stroke-width="0.3" textLength="100.0" lengthAdjust="spacingAndGlyphs">Number of metaphase</text>
<text transform="translate(372.90,360.40) rotate(-90) skewY(0.05)" font-size="9.4" text-anchor="middle" font-weight="bold" fill="#1a1a1a" stroke="#1a1a1a" stroke-width="0.3" textLength="96.0" lengthAdjust="spacingAndGlyphs">chromosome spreads</text>
<text transform="translate(486.20,483.20) skewY(0.05)" font-size="9.5" text-anchor="start" font-weight="bold" fill="#1a1a1a" stroke="#1a1a1a" stroke-width="0.35" textLength="70.2" lengthAdjust="spacingAndGlyphs">Larval age (dph)</text>
<rect x="592.40" y="362.40" width="7.80" height="7.00" fill="#000"/>
<rect x="596.55" y="362.35" width="1.10" height="1.10" fill="#fff"/>
<rect x="592.40" y="362.40" width="0.05" height="0.05" fill="#000"/>
<rect x="593.50" y="365.60" width="1.40" height="1.40" fill="#bbb"/>
<rect x="597.60" y="365.60" width="1.40" height="1.40" fill="#bbb"/>
<clipPath id="c16"><rect x="592.40" y="376.40" width="7.80" height="8.20"/></clipPath>
<path clip-path="url(#c16)" d="M590.40 387.90L602.20 399.70M590.40 384.10L602.20 395.90M590.40 380.30L602.20 392.10M590.40 376.50L602.20 388.30M590.40 372.70L602.20 384.50M590.40 368.90L602.20 380.70M590.40 365.10L602.20 376.90" stroke="#0c0c0c" stroke-width="1.5" fill="none"/>
<text transform="translate(607.00,368.60) skewY(0.05)" font-size="8.6" text-anchor="start" font-weight="normal" fill="#262626" stroke="#262626" stroke-width="0.4" textLength="54.7" lengthAdjust="spacingAndGlyphs">3h colchicine</text>
<text transform="translate(607.00,383.10) skewY(0.05)" font-size="8.6" text-anchor="start" font-weight="normal" fill="#262626" stroke="#262626" stroke-width="0.4" textLength="55.0" lengthAdjust="spacingAndGlyphs">5h colchicine</text>
<text transform="translate(203.50,508.90) skewY(0.05) scale(1.29,1)" font-size="13.4" font-weight="bold" fill="#0a0a0a" stroke="#0a0a0a" stroke-width="0.3">e</text>
<rect x="273.60" y="666.80" width="39.60" height="6.10" fill="#fff"/>
<rect x="279.00" y="666.80" width="3.80" height="6.10" fill="#909090"/>
<rect x="273.70" y="666.80" width="1.20" height="6.10" fill="#0a0a0a"/>
<rect x="276.45" y="666.80" width="1.30" height="6.10" fill="#2a2a2a"/>
<rect x="279.15" y="666.80" width="0.90" height="6.10" fill="#555"/>
<rect x="281.75" y="666.80" width="0.90" height="6.10" fill="#555"/>
<rect x="284.05" y="666.80" width="1.30" height="6.10" fill="#0a0a0a"/>
<rect x="287.00" y="666.80" width="1.20" height="6.10" fill="#0a0a0a"/>
<rect x="289.80" y="666.80" width="1.20" height="6.10" fill="#0a0a0a"/>
<rect x="292.25" y="666.80" width="1.50" height="6.10" fill="#0a0a0a"/>
<rect x="295.25" y="666.80" width="1.50" height="6.10" fill="#444"/>
<rect x="298.25" y="666.80" width="1.50" height="6.10" fill="#555"/>
<rect x="300.95" y="666.80" width="1.10" height="6.10" fill="#444"/>
<rect x="303.10" y="666.80" width="1.20" height="6.10" fill="#444"/>
<rect x="305.95" y="666.80" width="1.10" height="6.10" fill="#0a0a0a"/>
<rect x="308.95" y="666.80" width="1.10" height="6.10" fill="#0a0a0a"/>
<rect x="311.95" y="666.80" width="1.10" height="6.10" fill="#0a0a0a"/>
<rect x="417.70" y="629.60" width="39.30" height="43.30" fill="#fff"/>
<rect x="421.60" y="629.60" width="1.30" height="43.30" fill="#e0e0e0"/>
<rect x="424.20" y="629.60" width="3.60" height="43.30" fill="#aaa"/>
<rect x="429.30" y="629.60" width="1.10" height="43.30" fill="#e0e0e0"/>
<rect x="440.50" y="629.60" width="1.20" height="43.30" fill="#e0e0e0"/>
<rect x="443.30" y="629.60" width="1.20" height="43.30" fill="#d0d0d0"/>
<rect x="447.60" y="629.60" width="2.50" height="43.30" fill="#999"/>
<rect x="417.82" y="629.60" width="1.15" height="43.30" fill="#0a0a0a"/>
<rect x="420.10" y="629.60" width="1.20" height="43.30" fill="#2a2a2a"/>
<rect x="423.00" y="629.60" width="1.00" height="43.30" fill="#2a2a2a"/>
<rect x="426.10" y="629.60" width="1.00" height="43.30" fill="#666"/>
<rect x="427.90" y="629.60" width="1.00" height="43.30" fill="#1a1a1a"/>
<rect x="430.80" y="629.60" width="1.20" height="43.30" fill="#0a0a0a"/>
<rect x="433.65" y="629.60" width="1.30" height="43.30" fill="#0a0a0a"/>
<rect x="436.73" y="629.60" width="1.15" height="43.30" fill="#0a0a0a"/>
<rect x="439.20" y="629.60" width="1.00" height="43.30" fill="#0a0a0a"/>
<rect x="441.95" y="629.60" width="1.10" height="43.30" fill="#1a1a1a"/>
<rect x="444.75" y="629.60" width="1.10" height="43.30" fill="#2a2a2a"/>
<rect x="446.80" y="629.60" width="0.80" height="43.30" fill="#666"/>
<rect x="449.95" y="629.60" width="1.10" height="43.30" fill="#3a3a3a"/>
<rect x="452.50" y="629.60" width="1.40" height="43.30" fill="#2a2a2a"/>
<rect x="455.30" y="629.60" width="1.60" height="43.30" fill="#3a3a3a"/>
<clipPath id="c17"><rect x="458.00" y="558.00" width="41.20" height="114.90"/></clipPath>
<path clip-path="url(#c17)" d="M456.00 675.30L501.20 720.50M456.00 671.50L501.20 716.70M456.00 667.70L501.20 712.90M456.00 663.90L501.20 709.10M456.00 660.10L501.20 705.30M456.00 656.30L501.20 701.50M456.00 652.50L501.20 697.70M456.00 648.70L501.20 693.90M456.00 644.90L501.20 690.10M456.00 641.10L501.20 686.30M456.00 637.30L501.20 682.50M456.00 633.50L501.20 678.70M456.00 629.70L501.20 674.90M456.00 625.90L501.20 671.10M456.00 622.10L501.20 667.30M456.00 618.30L501.20 663.50M456.00 614.50L501.20 659.70M456.00 610.70L501.20 655.90M456.00 606.90L501.20 652.10M456.00 603.10L501.20 648.30M456.00 599.30L501.20 644.50M456.00 595.50L501.20 640.70M456.00 591.70L501.20 636.90M456.00 587.90L501.20 633.10M456.00 584.10L501.20 629.30M456.00 580.30L501.20 625.50M456.00 576.50L501.20 621.70M456.00 572.70L501.20 617.90M456.00 568.90L501.20 614.10M456.00 565.10L501.20 610.30M456.00 561.30L501.20 606.50M456.00 557.50L501.20 602.70M456.00 553.70L501.20 598.90M456.00 549.90L501.20 595.10M456.00 546.10L501.20 591.30M456.00 542.30L501.20 587.50M456.00 538.50L501.20 583.70M456.00 534.70L501.20 579.90M456.00 530.90L501.20 576.10M456.00 527.10L501.20 572.30M456.00 523.30L501.20 568.50M456.00 519.50L501.20 564.70M456.00 515.70L501.20 560.90M456.00 511.90L501.20 557.10" stroke="#0c0c0c" stroke-width="1.5" fill="none"/>
<path d="M241.30 506.80V672.90" stroke="#838383" stroke-width="1.3" fill="none"/>
<path d="M238.30 672.90H529.80" stroke="#838383" stroke-width="1.3" fill="none"/>
<path d="M238.30 672.90H241.30" stroke="#838383" stroke-width="1.3" fill="none"/>
<text transform="translate(235.20,675.40) skewY(0.05)" font-size="9.0" text-anchor="end" font-weight="normal" fill="#262626" stroke="#262626" stroke-width="0.4">0</text>
<path d="M238.30 649.17H241.30" stroke="#838383" stroke-width="1.3" fill="none"/>
<text transform="translate(235.20,651.67) skewY(0.05)" font-size="9.0" text-anchor="end" font-weight="normal" fill="#262626" stroke="#262626" stroke-width="0.4">5</text>
<path d="M238.30 625.44H241.30" stroke="#838383" stroke-width="1.3" fill="none"/>
<text transform="translate(235.20,627.94) skewY(0.05)" font-size="9.0" text-anchor="end" font-weight="normal" fill="#262626" stroke="#262626" stroke-width="0.4">10</text>
<path d="M238.30 601.71H241.30" stroke="#838383" stroke-width="1.3" fill="none"/>
<text transform="translate(235.20,604.21) skewY(0.05)" font-size="9.0" text-anchor="end" font-weight="normal" fill="#262626" stroke="#262626" stroke-width="0.4">15</text>
<path d="M238.30 577.99H241.30" stroke="#838383" stroke-width="1.3" fill="none"/>
<text transform="translate(235.20,580.49) skewY(0.05)" font-size="9.0" text-anchor="end" font-weight="normal" fill="#262626" stroke="#262626" stroke-width="0.4">20</text>
<path d="M238.30 554.26H241.30" stroke="#838383" stroke-width="1.3" fill="none"/>
<text transform="translate(235.20,556.76) skewY(0.05)" font-size="9.0" text-anchor="end" font-weight="normal" fill="#262626" stroke="#262626" stroke-width="0.4">25</text>
<path d="M238.30 530.53H241.30" stroke="#838383" stroke-width="1.3" fill="none"/>
<text transform="translate(235.20,533.03) skewY(0.05)" font-size="9.0" text-anchor="end" font-weight="normal" fill="#262626" stroke="#262626" stroke-width="0.4">30</text>
<path d="M238.30 506.80H241.30" stroke="#838383" stroke-width="1.3" fill="none"/>
<text transform="translate(235.20,509.30) skewY(0.05)" font-size="9.0" text-anchor="end" font-weight="normal" fill="#262626" stroke="#262626" stroke-width="0.4">35</text>
<path d="M385.60 672.90V675.70" stroke="#838383" stroke-width="1.3" fill="none"/>
<path d="M529.80 672.90V675.70" stroke="#838383" stroke-width="1.3" fill="none"/>
<text transform="translate(314.30,687.00) skewY(0.05)" font-size="9.0" text-anchor="middle" font-weight="normal" fill="#262626" stroke="#262626" stroke-width="0.4">0</text>
<text transform="translate(458.00,687.00) skewY(0.05)" font-size="9.0" text-anchor="middle" font-weight="normal" fill="#262626" stroke="#262626" stroke-width="0.4">2</text>
<rect x="292.70" y="661.90" width="1.3" height="5.00" fill="#000"/>
<rect x="291.50" y="661.35" width="3.70" height="1.1" fill="#000"/>
<rect x="333.70" y="670.60" width="1.3" height="2.20" fill="#000"/>
<rect x="332.85" y="670.05" width="3.00" height="1.1" fill="#000"/>
<rect x="436.70" y="610.10" width="1.3" height="19.50" fill="#000"/>
<rect x="435.50" y="609.55" width="3.70" height="1.1" fill="#000"/>
<rect x="477.70" y="534.30" width="1.3" height="23.70" fill="#000"/>
<rect x="476.50" y="533.75" width="3.70" height="1.1" fill="#000"/>
<text transform="translate(293.30,658.50) skewY(0.05)" font-size="8.6" text-anchor="middle" font-weight="normal" fill="#222" stroke="#222" stroke-width="0.25">a</text>
<text transform="translate(334.50,665.00) skewY(0.05)" font-size="8.6" text-anchor="middle" font-weight="normal" fill="#222" stroke="#222" stroke-width="0.25">a</text>
<text transform="translate(437.60,607.50) skewY(0.05)" font-size="9.6" text-anchor="middle" font-weight="normal" fill="#222" stroke="#222" stroke-width="0.25">b</text>
<text transform="translate(479.60,527.80) skewY(0.05)" font-size="8.6" text-anchor="middle" font-weight="normal" fill="#222" stroke="#222" stroke-width="0.25">c</text>
<text transform="translate(204.30,590.50) rotate(-90) skewY(0.05)" font-size="9.4" text-anchor="middle" font-weight="bold" fill="#1a1a1a" stroke="#1a1a1a" stroke-width="0.3" textLength="100.0" lengthAdjust="spacingAndGlyphs">Number of metaphase</text>
<text transform="translate(217.00,590.50) rotate(-90) skewY(0.05)" font-size="9.4" text-anchor="middle" font-weight="bold" fill="#1a1a1a" stroke="#1a1a1a" stroke-width="0.3" textLength="95.6" lengthAdjust="spacingAndGlyphs">chromosome spreads</text>
<text transform="translate(347.30,699.20) skewY(0.05)" font-size="9.5" text-anchor="start" font-weight="bold" fill="#1a1a1a" stroke="#1a1a1a" stroke-width="0.35" textLength="71.4" lengthAdjust="spacingAndGlyphs">Larval age (dph)</text>
<rect x="511.20" y="592.10" width="1.60" height="7.80" fill="#111"/>
<rect x="514.10" y="592.10" width="1.60" height="7.80" fill="#111"/>
<rect x="517.05" y="592.10" width="1.60" height="7.80" fill="#111"/>
<rect x="520.0" y="592.3" width="0.9" height="7.4" fill="#e4e4e4"/>
<text transform="translate(525.10,597.70) skewY(0.05)" font-size="8.6" text-anchor="start" font-weight="normal" fill="#262626" stroke="#262626" stroke-width="0.4" textLength="11.7" lengthAdjust="spacingAndGlyphs">Kcl</text>
<clipPath id="c18"><rect x="511.10" y="607.30" width="7.90" height="7.30"/></clipPath>
<path clip-path="url(#c18)" d="M509.10 618.20L521.00 630.10M509.10 614.40L521.00 626.30M509.10 610.60L521.00 622.50M509.10 606.80L521.00 618.70M509.10 603.00L521.00 614.90M509.10 599.20L521.00 611.10M509.10 595.40L521.00 607.30" stroke="#0c0c0c" stroke-width="1.5" fill="none"/>
<text transform="translate(525.30,613.20) skewY(0.05)" font-size="8.6" text-anchor="start" font-weight="normal" fill="#262626" stroke="#262626" stroke-width="0.4" textLength="15.0" lengthAdjust="spacingAndGlyphs">DW</text>
</svg>
</body></html>
